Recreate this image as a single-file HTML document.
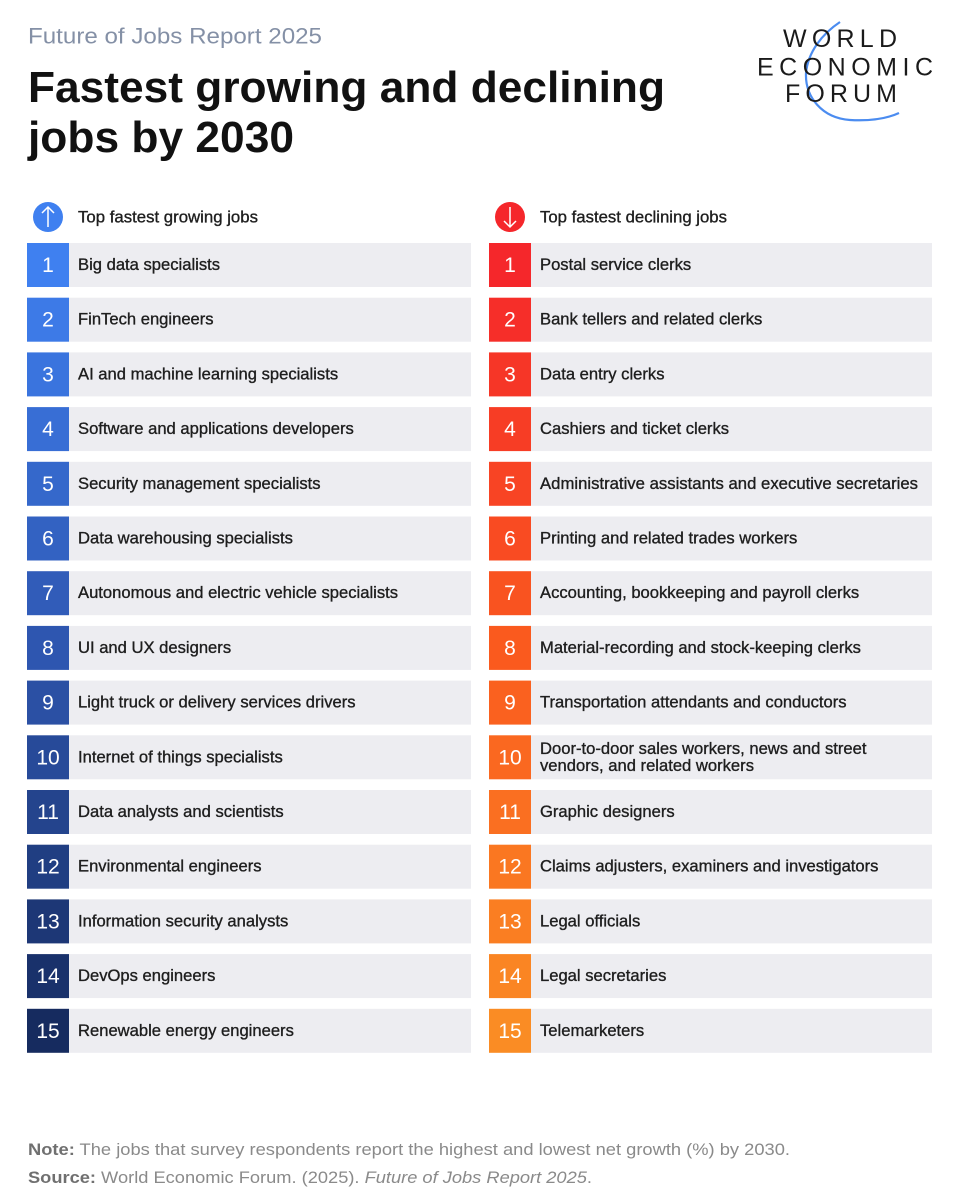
<!DOCTYPE html>
<html>
<head>
<meta charset="utf-8">
<style>
html,body{margin:0;padding:0;background:#fff;}
svg{display:block;}
text{font-family:"Liberation Sans",Arial,sans-serif;}
.row{font-size:16.6px;fill:#1e1e1e;stroke:#1e1e1e;stroke-width:0.35px;}
.num{font-size:21px;fill:#fff;text-anchor:middle;}
.bar{fill:#ededf1;}
</style>
</head>
<body>
<svg width="963" height="1200" viewBox="0 0 963 1200" xmlns="http://www.w3.org/2000/svg">
<rect width="963" height="1200" fill="#fff"/>

<!-- Header -->
<text x="28" y="43.5" font-size="22.5" fill="#8490a6" textLength="294" lengthAdjust="spacingAndGlyphs">Future of Jobs Report 2025</text>
<text x="28" y="102" font-size="44" font-weight="bold" fill="#111" textLength="637" lengthAdjust="spacingAndGlyphs">Fastest growing and declining</text>
<text x="28" y="152" font-size="44" font-weight="bold" fill="#111" textLength="266" lengthAdjust="spacingAndGlyphs">jobs by 2030</text>

<!-- Logo -->
<path d="M840,22 C822,34 808,52 806,73 C805,97 822,118 850,120 C868,121 886,119 899,113" fill="none" stroke="#4b8cf0" stroke-width="2.2"/>
<text x="783" y="47" font-size="25" fill="#1a1a1a" textLength="114" lengthAdjust="spacing">WORLD</text>
<text x="757" y="75.5" font-size="25" fill="#1a1a1a" textLength="176" lengthAdjust="spacing">ECONOMIC</text>
<text x="785" y="102" font-size="25" fill="#1a1a1a" textLength="112" lengthAdjust="spacing">FORUM</text>

<!-- Column headers -->
<circle cx="48" cy="217" r="15" fill="#3f80f0"/>
<path d="M48,227 L48,207 M42,213 L48,207 L54,213" fill="none" stroke="#fff" stroke-width="1.5"/>
<text x="78" y="222.5" class="row" textLength="180" lengthAdjust="spacingAndGlyphs">Top fastest growing jobs</text>

<circle cx="510" cy="217" r="15" fill="#f5272b"/>
<path d="M510,207 L510,227 M504,221 L510,227 L516,221" fill="none" stroke="#fff" stroke-width="1.5"/>
<text x="540" y="222.5" class="row" textLength="187" lengthAdjust="spacingAndGlyphs">Top fastest declining jobs</text>

<!-- Rows -->
<g transform="translate(0,243)">
<rect x="69" y="0" width="402" height="44" class="bar"/><rect x="27" y="0" width="42" height="44" fill="#3f80f0"/>
<text x="48" y="29" class="num">1</text><text x="78" y="27" class="row">Big data specialists</text>
<rect x="531" y="0" width="401" height="44" class="bar"/><rect x="489" y="0" width="42" height="44" fill="#f5272b"/>
<text x="510" y="29" class="num">1</text><text x="540" y="27" class="row">Postal service clerks</text>
</g>
<g transform="translate(0,297.7)">
<rect x="69" y="0" width="402" height="44" class="bar"/><rect x="27" y="0" width="42" height="44" fill="#3d7ae7"/>
<text x="48" y="29" class="num">2</text><text x="78" y="27" class="row">FinTech engineers</text>
<rect x="531" y="0" width="401" height="44" class="bar"/><rect x="489" y="0" width="42" height="44" fill="#f62e29"/>
<text x="510" y="29" class="num">2</text><text x="540" y="27" class="row">Bank tellers and related clerks</text>
</g>
<g transform="translate(0,352.4)">
<rect x="69" y="0" width="402" height="44" class="bar"/><rect x="27" y="0" width="42" height="44" fill="#3a74de"/>
<text x="48" y="29" class="num">3</text><text x="78" y="27" class="row">AI and machine learning specialists</text>
<rect x="531" y="0" width="401" height="44" class="bar"/><rect x="489" y="0" width="42" height="44" fill="#f63627"/>
<text x="510" y="29" class="num">3</text><text x="540" y="27" class="row">Data entry clerks</text>
</g>
<g transform="translate(0,407.1)">
<rect x="69" y="0" width="402" height="44" class="bar"/><rect x="27" y="0" width="42" height="44" fill="#386ed5"/>
<text x="48" y="29" class="num">4</text><text x="78" y="27" class="row">Software and applications developers</text>
<rect x="531" y="0" width="401" height="44" class="bar"/><rect x="489" y="0" width="42" height="44" fill="#f73d25"/>
<text x="510" y="29" class="num">4</text><text x="540" y="27" class="row">Cashiers and ticket clerks</text>
</g>
<g transform="translate(0,461.8)">
<rect x="69" y="0" width="402" height="44" class="bar"/><rect x="27" y="0" width="42" height="44" fill="#3568cb"/>
<text x="48" y="29" class="num">5</text><text x="78" y="27" class="row">Security management specialists</text>
<rect x="531" y="0" width="401" height="44" class="bar"/><rect x="489" y="0" width="42" height="44" fill="#f84424"/>
<text x="510" y="29" class="num">5</text><text x="540" y="27" class="row" textLength="378" lengthAdjust="spacingAndGlyphs">Administrative assistants and executive secretaries</text>
</g>
<g transform="translate(0,516.5)">
<rect x="69" y="0" width="402" height="44" class="bar"/><rect x="27" y="0" width="42" height="44" fill="#3362c2"/>
<text x="48" y="29" class="num">6</text><text x="78" y="27" class="row">Data warehousing specialists</text>
<rect x="531" y="0" width="401" height="44" class="bar"/><rect x="489" y="0" width="42" height="44" fill="#f94b22"/>
<text x="510" y="29" class="num">6</text><text x="540" y="27" class="row">Printing and related trades workers</text>
</g>
<g transform="translate(0,571.2)">
<rect x="69" y="0" width="402" height="44" class="bar"/><rect x="27" y="0" width="42" height="44" fill="#315cb9"/>
<text x="48" y="29" class="num">7</text><text x="78" y="27" class="row">Autonomous and electric vehicle specialists</text>
<rect x="531" y="0" width="401" height="44" class="bar"/><rect x="489" y="0" width="42" height="44" fill="#f95320"/>
<text x="510" y="29" class="num">7</text><text x="540" y="27" class="row">Accounting, bookkeeping and payroll clerks</text>
</g>
<g transform="translate(0,625.9)">
<rect x="69" y="0" width="402" height="44" class="bar"/><rect x="27" y="0" width="42" height="44" fill="#2e56b0"/>
<text x="48" y="29" class="num">8</text><text x="78" y="27" class="row">UI and UX designers</text>
<rect x="531" y="0" width="401" height="44" class="bar"/><rect x="489" y="0" width="42" height="44" fill="#fa5a1e"/>
<text x="510" y="29" class="num">8</text><text x="540" y="27" class="row">Material-recording and stock-keeping clerks</text>
</g>
<g transform="translate(0,680.6)">
<rect x="69" y="0" width="402" height="44" class="bar"/><rect x="27" y="0" width="42" height="44" fill="#2b50a4"/>
<text x="48" y="29" class="num">9</text><text x="78" y="27" class="row">Light truck or delivery services drivers</text>
<rect x="531" y="0" width="401" height="44" class="bar"/><rect x="489" y="0" width="42" height="44" fill="#fa611f"/>
<text x="510" y="29" class="num">9</text><text x="540" y="27" class="row">Transportation attendants and conductors</text>
</g>
<g transform="translate(0,735.3)">
<rect x="69" y="0" width="402" height="44" class="bar"/><rect x="27" y="0" width="42" height="44" fill="#274a99"/>
<text x="48" y="29" class="num">10</text><text x="78" y="27" class="row">Internet of things specialists</text>
<rect x="531" y="0" width="401" height="44" class="bar"/><rect x="489" y="0" width="42" height="44" fill="#fa6820"/>
<text x="510" y="29" class="num">10</text>
<text x="540" y="18.5" class="row">Door-to-door sales workers, news and street</text>
<text x="540" y="35.5" class="row">vendors, and related workers</text>
</g>
<g transform="translate(0,790)">
<rect x="69" y="0" width="402" height="44" class="bar"/><rect x="27" y="0" width="42" height="44" fill="#24448d"/>
<text x="48" y="29" class="num">11</text><text x="78" y="27" class="row">Data analysts and scientists</text>
<rect x="531" y="0" width="401" height="44" class="bar"/><rect x="489" y="0" width="42" height="44" fill="#fa6f21"/>
<text x="510" y="29" class="num">11</text><text x="540" y="27" class="row">Graphic designers</text>
</g>
<g transform="translate(0,844.7)">
<rect x="69" y="0" width="402" height="44" class="bar"/><rect x="27" y="0" width="42" height="44" fill="#203e82"/>
<text x="48" y="29" class="num">12</text><text x="78" y="27" class="row">Environmental engineers</text>
<rect x="531" y="0" width="401" height="44" class="bar"/><rect x="489" y="0" width="42" height="44" fill="#fa7721"/>
<text x="510" y="29" class="num">12</text><text x="540" y="27" class="row">Claims adjusters, examiners and investigators</text>
</g>
<g transform="translate(0,899.4)">
<rect x="69" y="0" width="402" height="44" class="bar"/><rect x="27" y="0" width="42" height="44" fill="#1d3776"/>
<text x="48" y="29" class="num">13</text><text x="78" y="27" class="row">Information security analysts</text>
<rect x="531" y="0" width="401" height="44" class="bar"/><rect x="489" y="0" width="42" height="44" fill="#fa7e22"/>
<text x="510" y="29" class="num">13</text><text x="540" y="27" class="row">Legal officials</text>
</g>
<g transform="translate(0,954.1)">
<rect x="69" y="0" width="402" height="44" class="bar"/><rect x="27" y="0" width="42" height="44" fill="#19316b"/>
<text x="48" y="29" class="num">14</text><text x="78" y="27" class="row">DevOps engineers</text>
<rect x="531" y="0" width="401" height="44" class="bar"/><rect x="489" y="0" width="42" height="44" fill="#fa8523"/>
<text x="510" y="29" class="num">14</text><text x="540" y="27" class="row">Legal secretaries</text>
</g>
<g transform="translate(0,1008.8)">
<rect x="69" y="0" width="402" height="44" class="bar"/><rect x="27" y="0" width="42" height="44" fill="#162b5f"/>
<text x="48" y="29" class="num">15</text><text x="78" y="27" class="row">Renewable energy engineers</text>
<rect x="531" y="0" width="401" height="44" class="bar"/><rect x="489" y="0" width="42" height="44" fill="#fa8c24"/>
<text x="510" y="29" class="num">15</text><text x="540" y="27" class="row">Telemarketers</text>
</g>

<!-- Footer -->
<text x="28" y="1155" font-size="17" fill="#8a8a8a" textLength="762" lengthAdjust="spacingAndGlyphs"><tspan font-weight="bold" fill="#707070">Note:</tspan> The jobs that survey respondents report the highest and lowest net growth (%) by 2030.</text>
<text x="28" y="1183" font-size="17" fill="#8a8a8a" textLength="564" lengthAdjust="spacingAndGlyphs"><tspan font-weight="bold" fill="#707070">Source:</tspan> World Economic Forum. (2025). <tspan font-style="italic">Future of Jobs Report 2025</tspan>.</text>
</svg>
</body>
</html>
